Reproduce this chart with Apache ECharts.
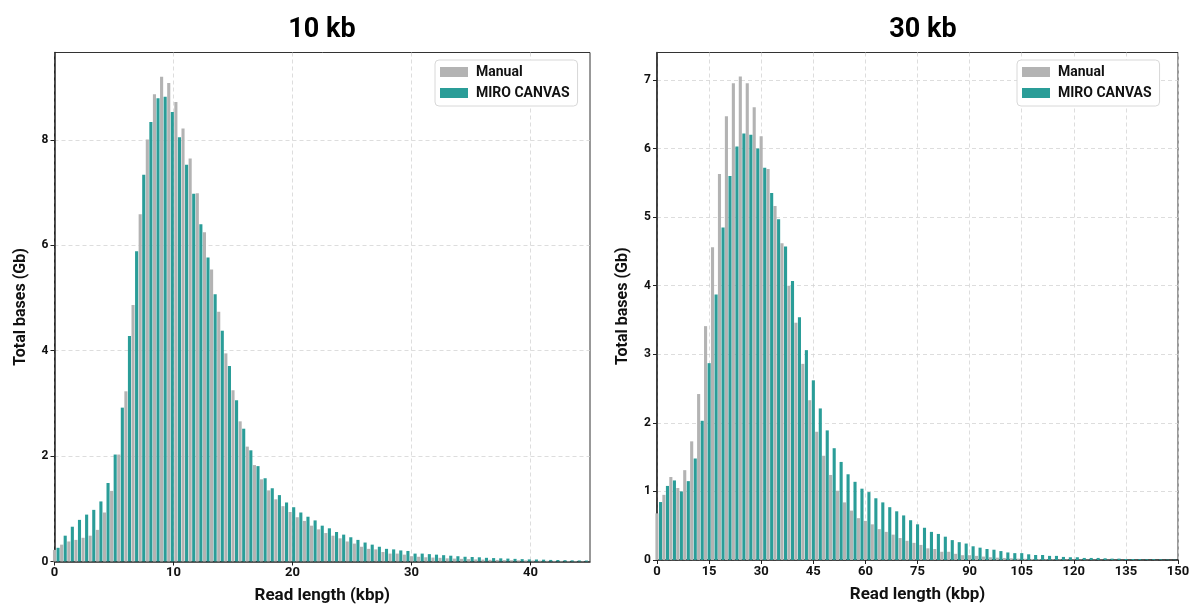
<!DOCTYPE html>
<html>
<head>
<meta charset="utf-8">
<title>Read length distribution</title>
<script src="https://cdn.jsdelivr.net/npm/echarts@6/dist/echarts.min.js"></script>
<style>
  html, body { margin: 0; padding: 0; background: #fff; }
  #chart { width: 1189px; height: 606px; }
</style>
</head>
<body>
<div id="chart"></div>
<script>
// total bases (Gb) per read-length bin
// 10 kb library: 75 bins of 0.6 kbp starting at 0
const manual10 = [0.22, 0.32, 0.38, 0.41, 0.45, 0.49, 0.60, 0.93, 1.34, 2.03,
  3.23, 4.87, 6.59, 8.01, 8.87, 9.20, 9.08, 8.72, 8.22, 7.65,
  6.99, 6.25, 5.54, 4.74, 3.95, 3.25, 2.66, 2.18, 1.83, 1.56,
  1.35, 1.18, 1.05, 0.94, 0.84, 0.77, 0.68, 0.61, 0.54, 0.49,
  0.44, 0.38, 0.34, 0.28, 0.24, 0.23, 0.18, 0.15, 0.15, 0.13,
  0.10, 0.09, 0.08, 0.075, 0.07, 0.06, 0.055, 0.05, 0.045, 0.04,
  0.036, 0.032, 0.03, 0.027, 0.024, 0.022, 0.02, 0.018, 0.016, 0.014,
  0.012, 0.011, 0.01, 0.009, 0.008]
const miro10 = [0.26, 0.49, 0.66, 0.79, 0.89, 0.98, 1.14, 1.49, 2.03, 2.92,
  4.28, 5.89, 7.34, 8.34, 8.79, 8.82, 8.53, 8.05, 7.53, 6.98,
  6.40, 5.77, 5.07, 4.38, 3.71, 3.06, 2.52, 2.11, 1.81, 1.58,
  1.39, 1.26, 1.12, 1.03, 0.93, 0.85, 0.78, 0.68, 0.63, 0.56,
  0.51, 0.46, 0.41, 0.36, 0.32, 0.28, 0.24, 0.23, 0.21, 0.20,
  0.15, 0.15, 0.14, 0.13, 0.12, 0.11, 0.10, 0.09, 0.085, 0.08,
  0.07, 0.065, 0.06, 0.055, 0.05, 0.045, 0.04, 0.038, 0.035, 0.03,
  0.028, 0.025, 0.022, 0.02, 0.018]

// 30 kb library: 75 bins of 2 kbp starting at 0
const manual30 = [0.68, 0.95, 1.21, 1.05, 1.31, 1.73, 2.42, 3.41, 4.56, 5.63,
  6.47, 6.95, 7.05, 6.95, 6.60, 6.18, 5.70, 5.16, 4.62, 4.00,
  3.46, 2.86, 2.33, 1.87, 1.52, 1.24, 1.01, 0.84, 0.72, 0.61,
  0.57, 0.52, 0.45, 0.41, 0.37, 0.32, 0.28, 0.25, 0.22, 0.17,
  0.16, 0.12, 0.12, 0.09, 0.07, 0.07, 0.06, 0.05, 0.04, 0.034,
  0.03, 0.025, 0.02, 0.018, 0.016, 0.014, 0.012, 0.011, 0.01, 0.009,
  0.008, 0.007, 0.006, 0.006, 0.005, 0.005, 0.004, 0.004, 0.003, 0.003,
  0.003, 0.002, 0.002, 0.002, 0.002]
const miro30 = [0.845, 1.08, 1.16, 1.00, 1.15, 1.48, 2.03, 2.87, 3.87, 4.85,
  5.60, 6.03, 6.22, 6.20, 6.00, 5.72, 5.35, 4.97, 4.57, 4.07,
  3.54, 3.06, 2.62, 2.21, 1.89, 1.63, 1.43, 1.25, 1.14, 1.04,
  0.99, 0.90, 0.84, 0.77, 0.71, 0.65, 0.58, 0.52, 0.47, 0.41,
  0.38, 0.34, 0.29, 0.26, 0.24, 0.20, 0.18, 0.16, 0.15, 0.13,
  0.11, 0.10, 0.10, 0.083, 0.073, 0.073, 0.06, 0.06, 0.045, 0.04,
  0.04, 0.03, 0.03, 0.03, 0.025, 0.02, 0.02, 0.015, 0.015, 0.013,
  0.01, 0.012, 0.01, 0.006, 0.004]

const bin10 = 0.6
const bin30 = 2
const xTicks10 = [0, 10, 20, 30, 40]
const xTicks30 = [0, 15, 30, 45, 60, 75, 90, 105, 120, 135, 150]
const yTicks10 = [0, 2, 4, 6, 8]
const yTicks30 = [0, 1, 2, 3, 4, 5, 6, 7]

const grayColor = '#b3b3b3'
const tealColor = '#2a9d98'
const font = 'Roboto, "DejaVu Sans", sans-serif'

// the pair of bars sits on the left quarter of each bin
function toPoints(values, bin) {
  return values.map((v, i) => [i * bin + bin / 4, v])
}

function xAxisFor(gridIndex, max, interval, ticks) {
  return {
    type: 'value',
    gridIndex: gridIndex,
    min: 0,
    max: max,
    interval: interval,
    name: 'Read length (kbp)',
    nameLocation: 'middle',
    nameGap: 26,
    nameTextStyle: { fontSize: 17, fontWeight: 'bold', color: '#111', fontFamily: font },
    axisLine: { lineStyle: { color: '#222', width: 1.5 } },
    axisTick: { length: 4, customValues: ticks, lineStyle: { color: '#222' } },
    axisLabel: { customValues: ticks, margin: 5, fontSize: 13, fontWeight: 'bold', color: '#111', fontFamily: font },
    splitLine: { show: true, lineStyle: { type: [4, 3], color: '#d4d4d4', width: 0.8 } }
  }
}

function yAxisFor(gridIndex, max, interval, ticks) {
  return {
    type: 'value',
    gridIndex: gridIndex,
    min: 0,
    max: max,
    interval: interval,
    name: 'Total bases (Gb)',
    nameLocation: 'middle',
    nameGap: 26,
    nameTextStyle: { fontSize: 16, fontWeight: 'bold', color: '#111', fontFamily: font },
    axisLine: { show: true, lineStyle: { color: '#222', width: 1.5 } },
    axisTick: { show: true, length: 4, customValues: ticks, lineStyle: { color: '#222' } },
    axisLabel: { customValues: ticks, margin: 6, fontSize: 12, fontWeight: 'bold', color: '#111', fontFamily: font },
    splitLine: { show: true, lineStyle: { type: [4, 3], color: '#d4d4d4', width: 0.8 } }
  }
}

function barSeries(name, axisIndex, values, bin, color) {
  return {
    name: name,
    type: 'bar',
    xAxisIndex: axisIndex,
    yAxisIndex: axisIndex,
    data: toPoints(values, bin),
    barWidth: 3.1,
    barGap: '15%',
    clip: true,
    itemStyle: { color: color }
  }
}

function legendAt(left) {
  return {
    data: ['Manual', 'MIRO CANVAS'],
    orient: 'vertical',
    left: left,
    top: 60,
    itemWidth: 28,
    itemHeight: 10,
    itemGap: 7,
    padding: [5, 8, 6, 5],
    icon: 'rect',
    borderColor: '#d8d8d8',
    borderWidth: 1,
    borderRadius: 4,
    backgroundColor: '#fff',
    textStyle: { fontSize: 14, fontWeight: 'bold', color: '#111', fontFamily: font, padding: [0, 0, 0, 3] }
  }
}

const chart = echarts.init(document.getElementById('chart'))

chart.setOption({
  animation: false,
  graphic: [
    { type: 'text', x: 322, y: 30, style: { text: '10 kb', align: 'center', verticalAlign: 'middle', fill: '#000', fontSize: 27, fontWeight: 'bold', fontFamily: font } },
    { type: 'text', x: 923, y: 30, style: { text: '30 kb', align: 'center', verticalAlign: 'middle', fill: '#000', fontSize: 27, fontWeight: 'bold', fontFamily: font } }
  ],
  legend: [legendAt(435), legendAt(1017)],
  grid: [
    { left: 54.5, top: 52.5, width: 535.5, height: 509, containLabel: false, outerBoundsMode: 'none', show: true, borderColor: '#333', borderWidth: 1 },
    { left: 657, top: 52.5, width: 521, height: 507.5, containLabel: false, outerBoundsMode: 'none', show: true, borderColor: '#333', borderWidth: 1 }
  ],
  xAxis: [
    xAxisFor(0, 45, 10, xTicks10),
    xAxisFor(1, 150, 15, xTicks30)
  ],
  yAxis: [
    yAxisFor(0, 9.66, 2, yTicks10),
    yAxisFor(1, 7.4, 1, yTicks30)
  ],
  series: [
    barSeries('Manual', 0, manual10, bin10, grayColor),
    barSeries('MIRO CANVAS', 0, miro10, bin10, tealColor),
    barSeries('Manual', 1, manual30, bin30, grayColor),
    barSeries('MIRO CANVAS', 1, miro30, bin30, tealColor)
  ]
})
</script>
</body>
</html>
